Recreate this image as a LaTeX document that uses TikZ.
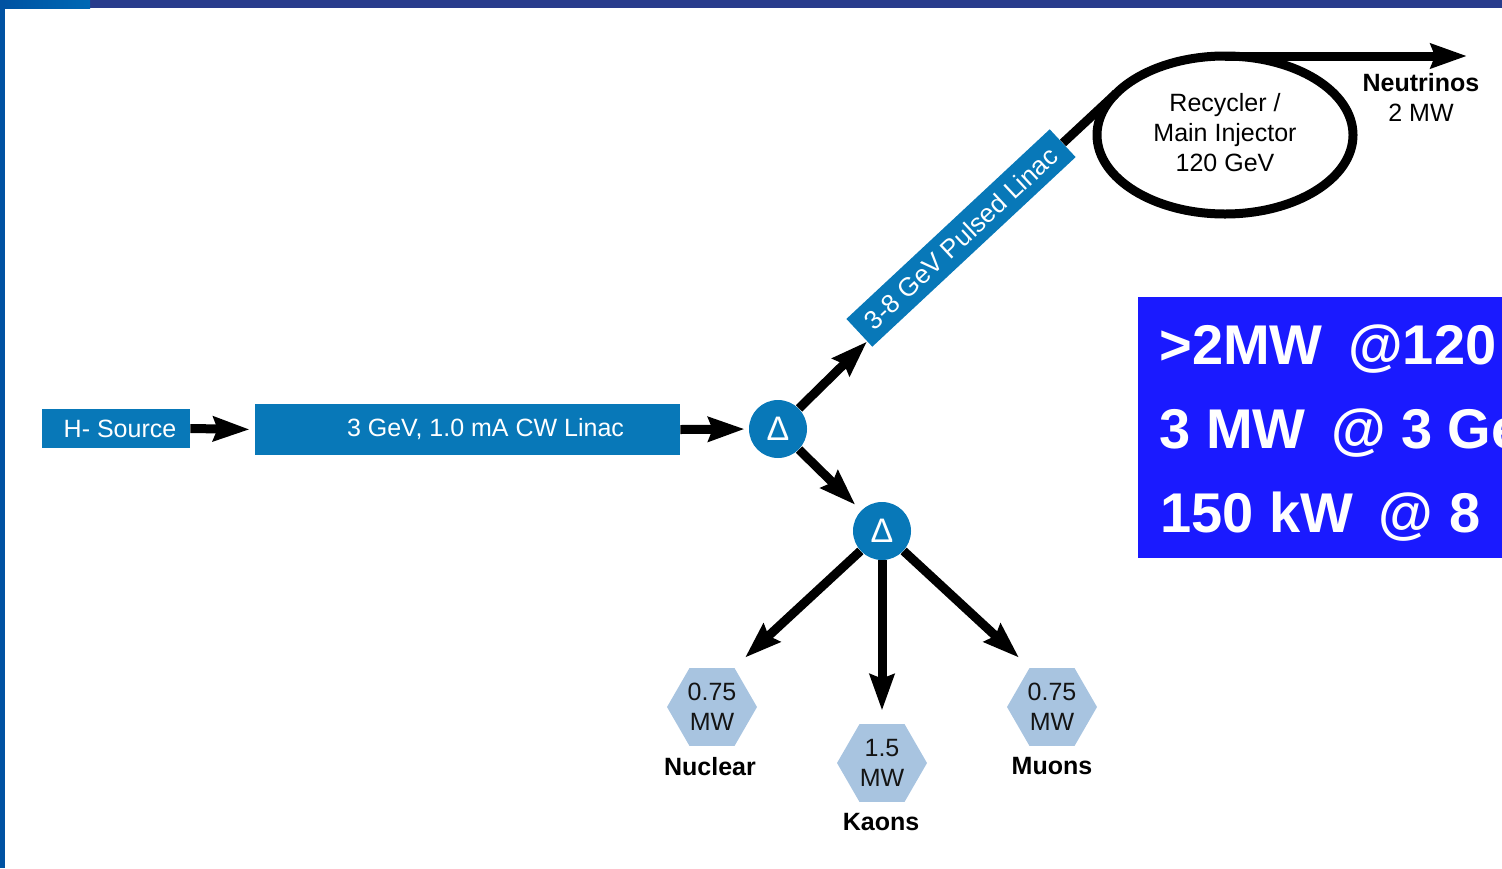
\documentclass[tikz,border=0pt]{standalone}
\usepackage{fontspec}
\setmainfont{Liberation Sans}
\usetikzlibrary{arrows.meta,calc,shapes.geometric}
\definecolor{linacblue}{RGB}{8,120,184}
\definecolor{hexblue}{RGB}{168,196,224}
\definecolor{barnavy}{RGB}{40,60,140}
\definecolor{barblue}{RGB}{0,82,162}
\definecolor{barlight}{RGB}{0,104,180}
\definecolor{panelblue}{RGB}{26,26,255}
\definecolor{hextext}{RGB}{20,20,20}

\begin{document}
\begin{tikzpicture}[x=0.5pt,y=0.5pt,
  block/.style={fill=linacblue,text=white,font=\fontsize{12.5}{15}\selectfont,inner sep=0pt},
  delta/.style={circle,fill=linacblue,text=white,minimum size=29pt,inner sep=0pt,font=\fontsize{17}{19}\selectfont},
  hexa/.style={regular polygon,regular polygon sides=6,fill=hexblue,minimum size=45pt,inner sep=0pt},
  hexlabel/.style={text=hextext,align=center,inner sep=0pt,font=\fontsize{12.5}{15}\selectfont},
  target/.style={inner sep=0pt,font=\bfseries\fontsize{12.5}{15}\selectfont},
  beam/.style={line width=4.5pt},
  arr/.style={beam,-{Stealth[length=18pt,width=12pt,inset=2pt]}},
  stat/.style={text=white,anchor=base west,inner sep=0pt,font=\bfseries\fontsize{28}{34}\selectfont}
]
\useasboundingbox (0,0) rectangle (1502,-868);
\clip (0,0) rectangle (1502,-868);

% slide frame
\fill[barnavy] (0,0) rectangle (1502,-8);
\shade[left color=barblue,right color=barlight] (0,0) rectangle (90,-8);
\fill[barblue] (0,0) rectangle (5,-868);

% beam power panel
\fill[panelblue] (1138,-297) rectangle (1510,-558);
\node[stat] (s1) at (1159,-364) {>2MW \hspace{5pt}@120};
\node[stat] (s2) at (1159,-448) {3 MW \hspace{5pt}@ 3 Ge};
\node[stat] (s3) at (1160,-532) {150 kW \hspace{5pt}@ 8};

% accelerator chain
\node[block,minimum width=74pt,minimum height=19.5pt] (hsrc) at (116,-428.5) {\hspace*{4pt}H- Source};
\node[block,minimum width=212.5pt,minimum height=25.5pt] (linac) at (467.5,-429.5) {\hspace*{18pt}3 GeV, 1.0 mA CW Linac};
\node[delta] (d1) at (778,-429) {Δ};
\node[delta] (d2) at (882,-531) {Δ};
\node[block,rotate=43,minimum width=139pt,minimum height=19pt,font=\fontsize{13}{15}\selectfont] (pulsed) at (961,-238) {3-8 GeV Pulsed Linac};
\node[ellipse,draw,line width=4.5pt,minimum width=128pt,minimum height=79pt,inner sep=0pt,outer sep=0pt,
      align=center,font=\fontsize{12.5}{15}\selectfont] (ring) at (1225,-135) {\raisebox{1.5pt}{\begin{tabular}{@{}c@{}}Recycler /\\Main Injector\\120 GeV\end{tabular}}};
\coordinate (nu) at (1467,-56);
\node[align=center,inner sep=0pt,font=\fontsize{12.5}{15}\selectfont] (nulabel) at (1421,-97) {{\bfseries Neutrinos}\\2 MW};

% experimental targets
\node[hexa] (h1) at (712,-707) {};
\node[hexa] (h2) at (882,-763) {};
\node[hexa] (h3) at (1052,-707) {};
\node[hexlabel] at (h1) {0.75\\MW};
\node[hexlabel] at (h2) {1.5\\MW};
\node[hexlabel] at (h3) {0.75\\MW};
\node[target] (n1) at (710,-767) {Nuclear};
\node[target] (n2) at (881,-822) {Kaons};
\node[target] (n3) at (1052,-766) {Muons};

% beam lines
\coordinate (pin) at ($(pulsed.west)!0.6!(pulsed.south west)$);
\coordinate (t1) at ($(h1.north)+(33,10)$);
\coordinate (t2) at ($(h2.north)+(0,13)$);
\coordinate (t3) at ($(h3.north)+(-33,10)$);
\draw[arr,shorten >=2.5pt] (hsrc.east) -- (linac.west);
\draw[arr,shorten >=2pt] (linac.east) -- (d1.west);
\draw[arr,shorten >=4pt] (d1) -- (d2);
\draw[arr] (d1) -- (pin);
\draw[beam] (pulsed.east) -- (ring.159);
\draw[arr] (ring.north) -- (nu);
\draw[arr] (d2) -- (t1);
\draw[arr] (d2) -- (t2);
\draw[arr] (d2) -- (t3);
\end{tikzpicture}
\end{document}
